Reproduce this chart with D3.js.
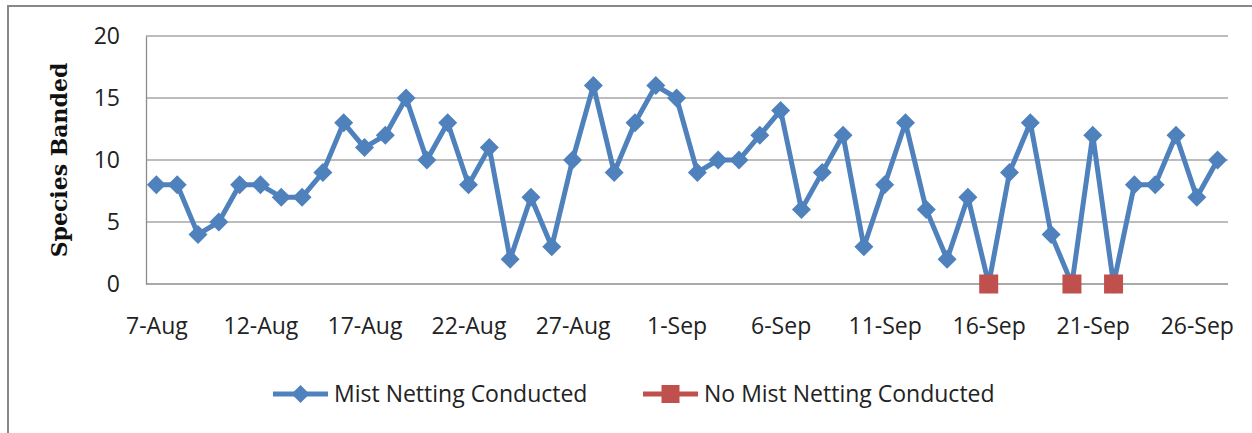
<!DOCTYPE html>
<html>
<head>
<meta charset="utf-8">
<script src="https://cdn.jsdelivr.net/npm/d3@7"></script>
<style>
  html, body { margin: 0; padding: 0; background: #fff; }
  svg { display: block; }
</style>
</head>
<body>
<svg id="chart" width="1252" height="433"></svg>
<script>
const dates = [
  "7-Aug","8-Aug","9-Aug","10-Aug","11-Aug","12-Aug","13-Aug","14-Aug","15-Aug","16-Aug",
  "17-Aug","18-Aug","19-Aug","20-Aug","21-Aug","22-Aug","23-Aug","24-Aug","25-Aug","26-Aug",
  "27-Aug","28-Aug","29-Aug","30-Aug","31-Aug","1-Sep","2-Sep","3-Sep","4-Sep","5-Sep",
  "6-Sep","7-Sep","8-Sep","9-Sep","10-Sep","11-Sep","12-Sep","13-Sep","14-Sep","15-Sep",
  "16-Sep","17-Sep","18-Sep","19-Sep","20-Sep","21-Sep","22-Sep","23-Sep","24-Sep","25-Sep",
  "26-Sep","27-Sep"
];
const mistNetting = [
  8,8,4,5,8,8,7,7,9,13,
  11,12,15,10,13,8,11,2,7,3,
  10,16,9,13,16,15,9,10,10,12,
  14,6,9,12,3,8,13,6,2,7,
  0,9,13,4,0,12,0,8,8,12,
  7,10
];
const noNetting = [
  null,null,null,null,null,null,null,null,null,null,
  null,null,null,null,null,null,null,null,null,null,
  null,null,null,null,null,null,null,null,null,null,
  null,null,null,null,null,null,null,null,null,null,
  0,null,null,null,0,null,0,null,null,null,
  null,null
];
const xTickLabels = ["7-Aug","12-Aug","17-Aug","22-Aug","27-Aug","1-Sep","6-Sep","11-Sep","16-Sep","21-Sep","26-Sep"];
const yTicks = [0,5,10,15,20];
const seriesNames = ["Mist Netting Conducted","No Mist Netting Conducted"];
const blue = "#4F81BD", red = "#C0504D";

const svg = d3.select("#chart");
const pLeft = 146, pRight = 1228, pTop = 36, pBottom = 284;
const fontSans = "'Open Sans', sans-serif";

// outer chart border
svg.append("rect").attr("x", 8).attr("y", 6).attr("width", 1260).attr("height", 440)
  .attr("fill", "none").attr("stroke", "#888").attr("stroke-width", 2);

const x = d3.scalePoint().domain(dates).range([pLeft, pRight]).padding(0.5);
const y = d3.scaleLinear().domain([0, 20]).range([pBottom, pTop]);

// gridlines
svg.append("g").selectAll("line").data(yTicks.filter(d => d > 0)).join("line")
  .attr("x1", pLeft).attr("x2", pRight)
  .attr("y1", d => y(d)).attr("y2", d => y(d))
  .attr("stroke", "#a6a6a6").attr("stroke-width", 1.3);

// y axis
const yAxis = d3.axisLeft(y).tickValues(yTicks).tickSize(0).tickPadding(26);
const gy = svg.append("g").attr("transform", `translate(${pLeft},0)`).call(yAxis);
gy.select(".domain").attr("stroke", "#8c8c8c").attr("stroke-width", 1.3);
gy.selectAll("text").attr("font-family", fontSans).attr("font-size", 23).attr("fill", "#222");

// x axis
const xAxis = d3.axisBottom(x).tickValues(xTickLabels).tickSize(0).tickPadding(34);
const gx = svg.append("g").attr("transform", `translate(0,${pBottom})`).call(xAxis);
gx.select(".domain").attr("d", `M${pLeft},0H${pRight}`).attr("stroke", "#8c8c8c").attr("stroke-width", 1.3);
gx.selectAll("text").attr("font-family", fontSans).attr("font-size", 23).attr("fill", "#222");

// y label
svg.append("text")
  .attr("transform", `translate(67,160) rotate(-90)`)
  .attr("text-anchor", "middle")
  .attr("font-family", "'DejaVu Serif', serif").attr("font-weight", "bold")
  .attr("font-size", 22).attr("fill", "#111")
  .text("Species Banded");

// blue line
const line = d3.line().defined(d => d.v != null).x(d => x(d.k)).y(d => y(d.v));
const blueData = dates.map((k, i) => ({k, v: mistNetting[i]}));
svg.append("path").datum(blueData).attr("d", line)
  .attr("fill", "none").attr("stroke", blue).attr("stroke-width", 5).attr("stroke-linejoin", "round");

function diamondPath(s) { return `M0,${-s}L${s},0L0,${s}L${-s},0Z`; }
svg.append("g").selectAll("path").data(blueData.filter(d => d.v != null)).join("path")
  .attr("d", diamondPath(9.5))
  .attr("transform", d => `translate(${x(d.k)},${y(d.v)})`)
  .attr("fill", blue);

// red markers
const redData = dates.map((k, i) => ({k, v: noNetting[i]})).filter(d => d.v != null);
svg.append("g").selectAll("rect").data(redData).join("rect")
  .attr("x", d => x(d.k) - 9.5).attr("y", d => y(d.v) - 9.5)
  .attr("width", 19).attr("height", 19)
  .attr("fill", red);

// legend
const legend = svg.append("g");
const legItems = [
  {name: seriesNames[0], color: blue, x0: 273, shape: "diamond"},
  {name: seriesNames[1], color: red, x0: 643, shape: "square"}
];
const ly = 394;
legItems.forEach(it => {
  legend.append("line").attr("x1", it.x0).attr("x2", it.x0 + 55).attr("y1", ly).attr("y2", ly)
    .attr("stroke", it.color).attr("stroke-width", 5);
  if (it.shape === "diamond") {
    legend.append("path").attr("d", diamondPath(9)).attr("transform", `translate(${it.x0 + 27.5},${ly})`).attr("fill", it.color);
  } else {
    legend.append("rect").attr("x", it.x0 + 27.5 - 9).attr("y", ly - 9).attr("width", 18).attr("height", 18).attr("fill", it.color);
  }
  legend.append("text").attr("x", it.x0 + 61).attr("y", ly).attr("dy", "0.35em")
    .attr("font-family", fontSans).attr("font-size", 23).attr("fill", "#222")
    .text(it.name);
});
</script>
</body>
</html>
